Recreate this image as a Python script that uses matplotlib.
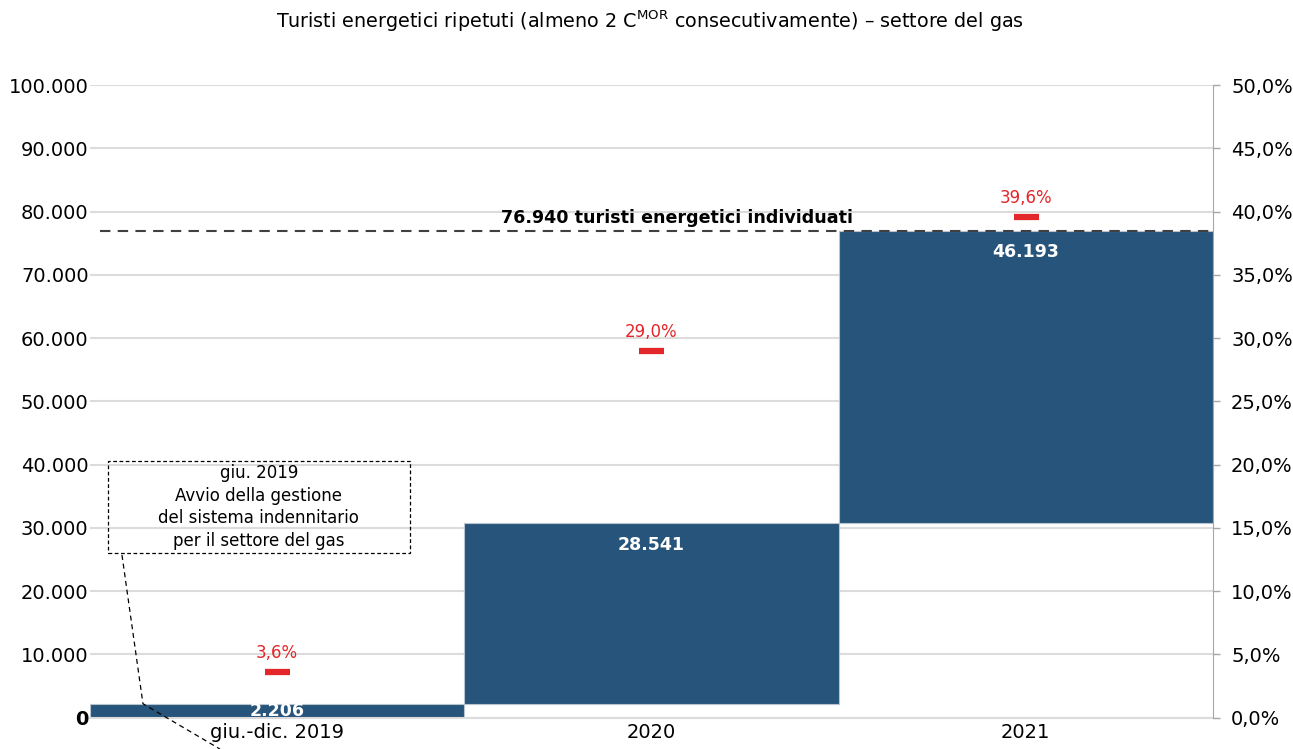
import matplotlib
matplotlib.use('Agg')
import matplotlib.pyplot as plt
import matplotlib.ticker as mticker
from matplotlib.patches import Rectangle
import numpy as np

# dati
categorie = ['giu.-dic. 2019', '2020', '2021']
nuovi = [2206, 28541, 46193]
quota = [3.6, 29.0, 39.6]
totale = 76940

blu = '#27547a'
rosso = '#e3262a'
plt.rcParams['font.family'] = ['DejaVu Sans']

def it_num(v, pos=None):
	return '{:,.0f}'.format(v).replace(',', '.')

def it_pct(v, pos=None):
	return ('%.1f%%' % v).replace('.', ',')

fig = plt.figure(figsize=(12.93, 7.49), dpi=100)
ax = fig.add_axes([0.0696, 0.0418, 0.8685, 0.8447])
ax2 = ax.twinx()

x = np.arange(len(categorie))
basi = np.concatenate([[0], np.cumsum(nuovi)[:-1]])
ax.bar(x, nuovi, bottom=basi, width=1.0, color=blu, edgecolor='#b8c4d0', linewidth=0.8, zorder=2)

# etichette valori
for xi, b, v in zip(x, basi, nuovi):
	if v < 5000:
		ax.text(xi, b + v/2., it_num(v), ha='center', va='center', color='white',
			fontsize=12.5, fontweight='bold', clip_on=True, zorder=3)
	else:
		ax.annotate(it_num(v), xy=(xi, b + v), xytext=(0, -9), textcoords='offset points',
			ha='center', va='top', color='white', fontsize=12.5, fontweight='bold', zorder=3)

ax.set_xlim(-0.5, len(categorie) - 0.5)
ax.set_ylim(0, 100000)
ax.set_yticks(np.arange(0, 100001, 10000))
ax.yaxis.set_major_formatter(mticker.FuncFormatter(it_num))
ax.set_xticks(x)
ax.set_xticklabels(categorie, fontsize=14)
ax.tick_params(axis='x', length=0, pad=4)
ax.tick_params(axis='y', length=0, pad=1, labelsize=14)
ax.get_yticklabels()[0].set_fontweight('bold')
ax.grid(axis='y', color='#dcdcdc', linewidth=1.5)
ax.set_axisbelow(True)
for s in ['left', 'top', 'right']:
	ax.spines[s].set_visible(False)
ax.spines['bottom'].set_color('#dcdcdc')
ax.spines['bottom'].set_linewidth(1.5)

# linea totale
ax.plot([-0.473, len(categorie) - 0.5], [totale, totale], ls=(0, (5, 3.5)), color='#404040', lw=1.5, zorder=4)
ax.annotate(it_num(totale) + ' turisti energetici individuati', xy=(1.067, totale), xytext=(0, 6),
	textcoords='offset points', ha='center', va='baseline', fontsize=12.6, fontweight='bold')

# box nota
ax.add_patch(Rectangle((-0.452, 26030), 0.806, 14540, fill=False, ls=(0, (3, 2)), lw=0.9,
	edgecolor='black', zorder=5))
ax.text(-0.049, 33300, 'giu. 2019\nAvvio della gestione\ndel sistema indennitario\nper il settore del gas',
	ha='center', va='center', fontsize=12, linespacing=1.35, zorder=5)
ax.plot([-0.4146, -0.3585, -0.153], [25720, nuovi[0], -4950], ls=(0, (4, 3)), color='black',
	lw=0.9, clip_on=False, zorder=5)

# asse destro - quota
ax2.set_ylim(0, 50)
ax2.set_yticks(np.arange(0, 50.1, 5))
ax2.yaxis.set_major_formatter(mticker.FuncFormatter(it_pct))
ax2.tick_params(axis='y', length=5, width=1, color='#a6a6a6', pad=8, labelsize=14)
for s in ['left', 'top', 'bottom']:
	ax2.spines[s].set_visible(False)
ax2.spines['right'].set_color('#a6a6a6')
ax2.plot(x, quota, ls='none', marker='_', ms=18, mew=4.5, color=rosso, zorder=6)
for xi, q in zip(x, quota):
	ax2.annotate(it_pct(q), xy=(xi, q), xytext=(0, 7), textcoords='offset points',
		ha='center', va='bottom', color=rosso, fontsize=12)

fig.text(0.503, 0.971, 'Turisti energetici ripetuti (almeno 2 C$^{\\mathrm{MOR}}$ consecutivamente) \u2013 settore del gas',
	ha='center', va='center', fontsize=13.8)

fig.savefig('out.png', dpi=100)
plt.close('all')
